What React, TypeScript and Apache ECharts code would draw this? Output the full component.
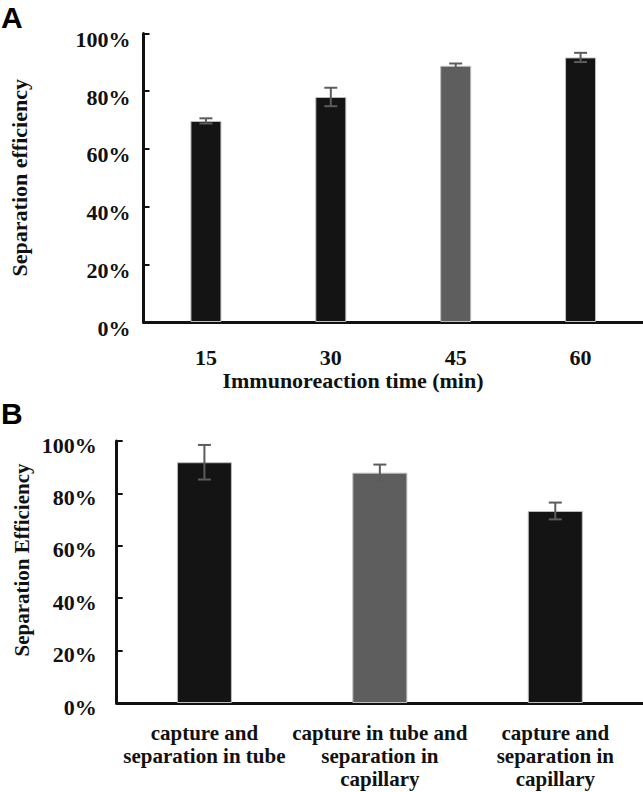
import React, { useEffect, useRef } from "react";
import * as echarts from "echarts";

const timeLabels = ["15", "30", "45", "60"];
const timeEfficiency = [69.7, 78.0, 88.8, 91.7];
const timeError = [0.9, 3.2, 0.8, 1.6];

const methodLabels = [
  "capture and\nseparation in tube",
  "capture in tube and\nseparation in\ncapillary",
  "capture and\nseparation in\ncapillary",
];
const methodEfficiency = [91.9, 87.9, 73.3];
const methodError = [6.6, 3.1, 3.2];

const yTicks = [0, 20, 40, 60, 80, 100];

const BLACK = "#141414";
const GRAY = "#5e5e5e";
const colorsA = [BLACK, BLACK, GRAY, BLACK];
const colorsB = [BLACK, GRAY, BLACK];

const SERIF = "'Liberation Serif', 'Times New Roman', serif";

function errorRender(capHalf: number) {
  return (params: any, api: any) => {
    const x = api.value(0);
    const lo = api.coord([x, api.value(1)]);
    const hi = api.coord([x, api.value(2)]);
    const style = { stroke: "#5c5c5c", lineWidth: 2 };
    return {
      type: "group",
      children: [
        { type: "line", shape: { x1: lo[0], y1: lo[1], x2: hi[0], y2: hi[1] }, style },
        { type: "line", shape: { x1: lo[0] - capHalf, y1: lo[1], x2: lo[0] + capHalf, y2: lo[1] }, style },
        { type: "line", shape: { x1: hi[0] - capHalf, y1: hi[1], x2: hi[0] + capHalf, y2: hi[1] }, style },
      ],
    };
  };
}

export default function App() {
  const ref = useRef<HTMLDivElement>(null);
  useEffect(() => {
    if (!ref.current) return;
    const chart = echarts.init(ref.current, null, { renderer: "svg" });
    const yAxisBase = (gridIndex: number, name: string, nameGap: number, labelPadTop: number, margin: number, nameSize: number) => ({
      type: "value",
      gridIndex,
      min: yTicks[0],
      max: yTicks[yTicks.length - 1],
      interval: 20,
      name,
      nameLocation: "middle",
      nameGap,
      nameTextStyle: { fontFamily: SERIF, fontWeight: "bold", fontSize: nameSize, color: "#111" },
      axisLine: { show: true, lineStyle: { color: "#111", width: 3 } },
      axisTick: { show: true, inside: true, length: 6, lineStyle: { color: "#111", width: 2 } },
      splitLine: { show: false },
      axisLabel: {
        formatter: (v: number) => "{p|" + v + "%}",
        margin,
        rich: {
          p: {
            fontFamily: SERIF,
            fontWeight: "bold",
            fontSize: 22,
            color: "#111",
            padding: [labelPadTop, 0, 0, 0],
          },
        },
      },
    });
    const option: any = {
      animation: false,
      backgroundColor: "#fff",
      grid: [
        { left: 143.5, top: 33.5, width: 499.5, height: 288.5 },
        { left: 116.7, top: 441, width: 526.3, height: 262 },
      ],
      xAxis: [
        {
          type: "category",
          gridIndex: 0,
          data: timeLabels,
          axisLine: { lineStyle: { color: "#111", width: 3 } },
          axisTick: { show: false },
          axisLabel: { fontFamily: SERIF, fontWeight: "bold", fontSize: 22, color: "#111", margin: 24 },
        },
        {
          type: "category",
          gridIndex: 1,
          data: methodLabels,
          axisLine: { lineStyle: { color: "#111", width: 3 } },
          axisTick: { show: false },
          axisLabel: {
            fontFamily: SERIF,
            fontWeight: "bold",
            fontSize: 21,
            lineHeight: 23,
            color: "#111",
            margin: 18,
            interval: 0,
          },
        },
      ],
      yAxis: [
        yAxisBase(0, "Separation efficiency", 113, 12, 13, 22),
        { ...yAxisBase(1, "", 84, 8, 20, 21), name: "" },
      ],
      series: [
        {
          type: "bar",
          xAxisIndex: 0,
          yAxisIndex: 0,
          barWidth: 31,
          data: timeEfficiency.map((v, i) => ({ value: v, itemStyle: { color: colorsA[i] } })),
          itemStyle: { borderColor: "#bdbdbd", borderWidth: 1 },
        },
        {
          type: "custom",
          xAxisIndex: 0,
          yAxisIndex: 0,
          z: 5,
          renderItem: errorRender(6.5),
          encode: { x: 0, y: [1, 2] },
          data: timeEfficiency.map((v, i) => [i, v - timeError[i], v + timeError[i]]),
        },
        {
          type: "bar",
          xAxisIndex: 1,
          yAxisIndex: 1,
          barWidth: 55,
          data: methodEfficiency.map((v, i) => ({ value: v, itemStyle: { color: colorsB[i] } })),
          itemStyle: { borderColor: "#bdbdbd", borderWidth: 1 },
        },
        {
          type: "custom",
          xAxisIndex: 1,
          yAxisIndex: 1,
          z: 5,
          renderItem: errorRender(6.5),
          encode: { x: 0, y: [1, 2] },
          data: methodEfficiency.map((v, i) => [i, v - methodError[i], v + methodError[i]]),
        },
      ],
      graphic: [
        {
          type: "text",
          left: 1,
          top: 2,
          style: { text: "A", font: "bold 30px 'Liberation Sans', Arial, sans-serif", fill: "#000" },
        },
        {
          type: "text",
          left: 1,
          top: 398,
          style: { text: "B", font: "bold 30px 'Liberation Sans', Arial, sans-serif", fill: "#000" },
        },
        {
          type: "text",
          x: 353,
          y: 380,
          style: {
            text: "Immunoreaction time (min)",
            font: "bold 22px " + SERIF,
            fill: "#111",
            textAlign: "center",
            textVerticalAlign: "middle",
          },
        },
        {
          type: "text",
          x: 21.5,
          y: 560,
          rotation: Math.PI / 2,
          style: {
            text: "Separation Efficiency",
            font: "bold 21px " + SERIF,
            fill: "#111",
            textAlign: "center",
            textVerticalAlign: "middle",
          },
        },
      ],
    };
    chart.setOption(option);
    return () => chart.dispose();
  }, []);
  return (
    <div
      ref={ref}
      style={{ position: "fixed", left: 0, top: 0, width: 643, height: 792, background: "#fff" }}
    />
  );
}
